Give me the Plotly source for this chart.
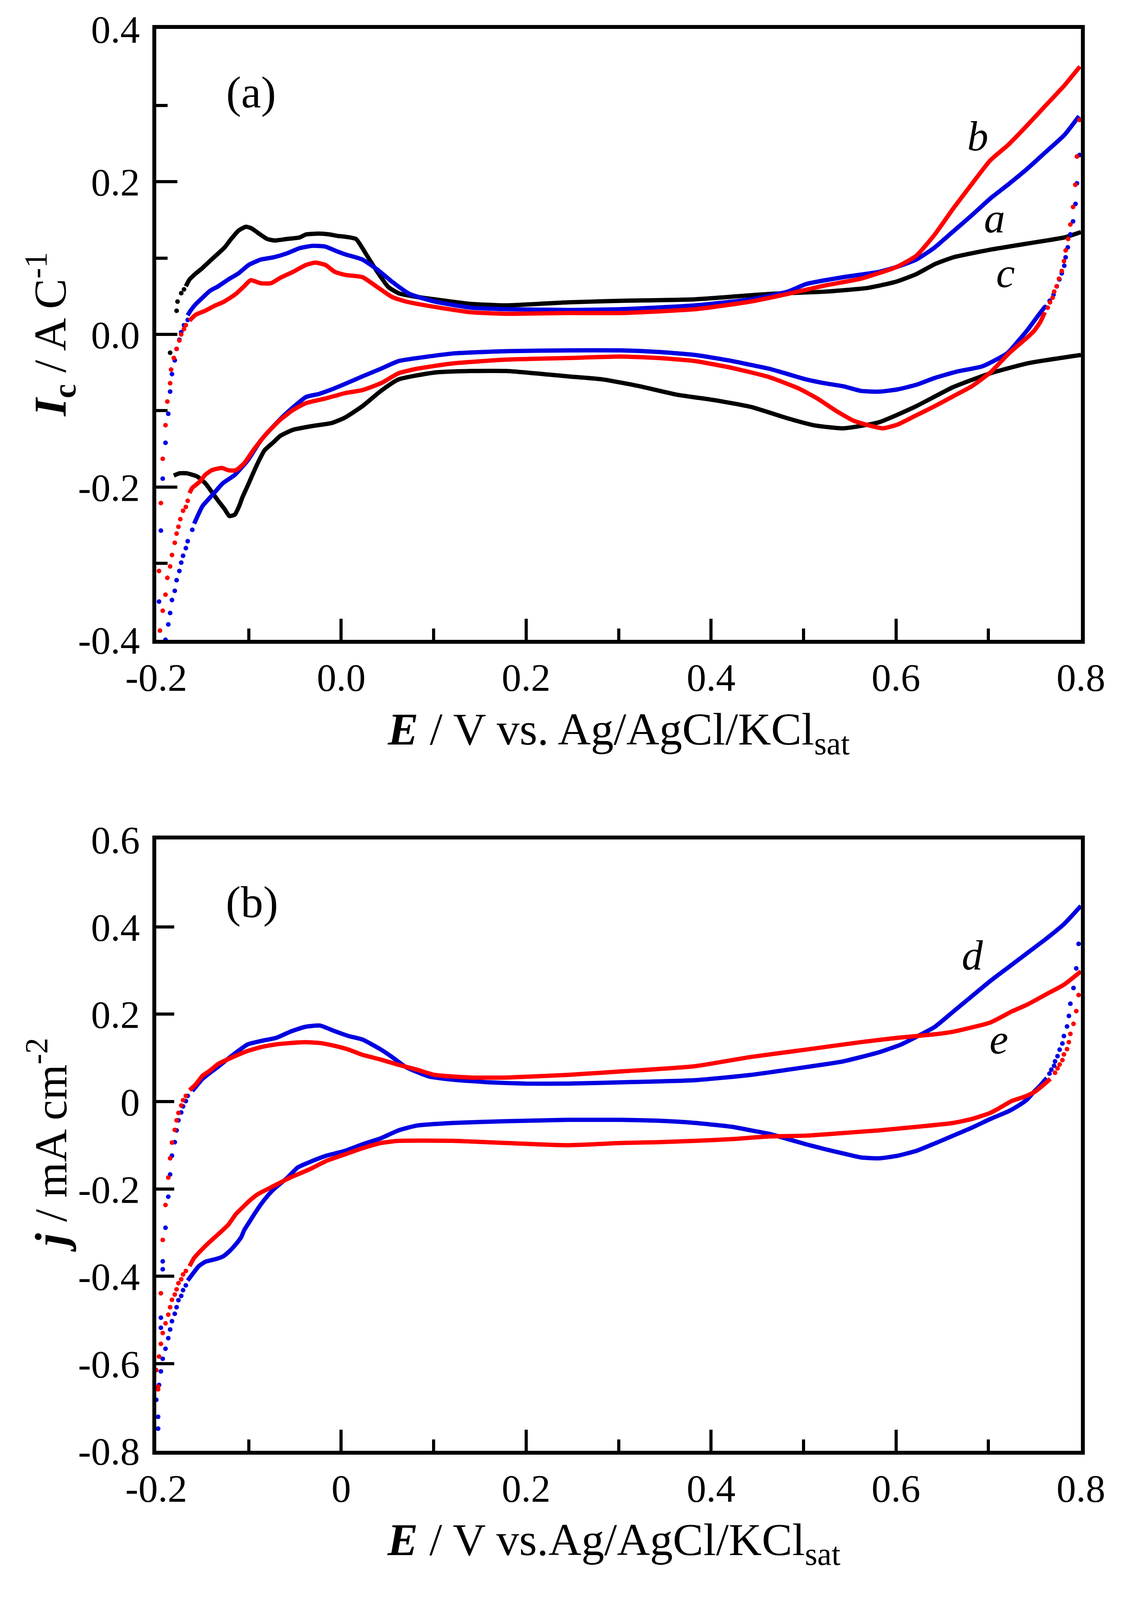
import plotly.graph_objects as go
from plotly.subplots import make_subplots

# ---------- panel (a): I_c / A C^-1 ----------
# curve a (blue)
a_fwd_E = [-0.166, -0.163, -0.157, -0.150, -0.142, -0.133, -0.122, -0.111, -0.100, -0.087, -0.073, -0.059,
           -0.045, -0.031, -0.017, -0.007, 0.004, 0.023, 0.039, 0.055, 0.074, 0.101, 0.140, 0.179, 0.245,
           0.303, 0.383, 0.443, 0.483, 0.503, 0.543, 0.582, 0.600, 0.622, 0.642, 0.662, 0.682, 0.702, 0.722,
           0.742, 0.762, 0.782, 0.798]
a_fwd_I = [0.025, 0.031, 0.040, 0.048, 0.057, 0.063, 0.072, 0.080, 0.091, 0.098, 0.101, 0.106,
           0.113, 0.116, 0.115, 0.110, 0.105, 0.098, 0.085, 0.069, 0.053, 0.043, 0.035, 0.033, 0.032,
           0.033, 0.038, 0.046, 0.056, 0.066, 0.075, 0.082, 0.088, 0.098, 0.114, 0.135, 0.156, 0.178, 0.197,
           0.217, 0.239, 0.261, 0.286]
a_rev_E = [0.761, 0.754, 0.743, 0.732, 0.721, 0.707, 0.693, 0.665, 0.642, 0.622, 0.602, 0.582, 0.562, 0.543,
           0.523, 0.503, 0.483, 0.463, 0.443, 0.423, 0.383, 0.343, 0.303, 0.245, 0.179, 0.121, 0.082, 0.062,
           0.043, 0.023, 0.004, -0.010, -0.024, -0.038, -0.059, -0.073, -0.087, -0.101, -0.115, -0.128,
           -0.139, -0.150, -0.159]
a_rev_I = [0.036, 0.025, 0.007, -0.009, -0.024, -0.034, -0.042, -0.049, -0.057, -0.066, -0.072, -0.075, -0.074,
           -0.068, -0.064, -0.059, -0.052, -0.045, -0.040, -0.035, -0.027, -0.023, -0.021, -0.021, -0.022,
           -0.025, -0.031, -0.035, -0.045, -0.055, -0.065, -0.072, -0.078, -0.082, -0.103, -0.120, -0.139,
           -0.165, -0.184, -0.195, -0.210, -0.225, -0.248]
a_dots_E = [-0.197, -0.195, -0.193, -0.190, -0.187, -0.185, -0.183, -0.180, -0.178, -0.175, -0.173, -0.170,
            -0.166, -0.161, -0.166, -0.168, -0.171, -0.173, -0.175, -0.178, -0.180, -0.183, -0.185, -0.187,
            -0.190, 0.7985, 0.7957, 0.7942, 0.7915, 0.7886, 0.7858, 0.7835, 0.7820, 0.7793, 0.7767, 0.7739,
            0.7704, 0.7662, 0.7613]
a_dots_I = [-0.350, -0.257, -0.189, -0.142, -0.104, -0.075, -0.052, -0.034, -0.019, -0.007, 0.003, 0.012,
            0.019, -0.256, -0.271, -0.280, -0.290, -0.299, -0.310, -0.322, -0.336, -0.348, -0.365, -0.380,
            -0.400, 0.235, 0.198, 0.171, 0.148, 0.131, 0.114, 0.101, 0.090, 0.080, 0.072, 0.063,
            0.052, 0.044, 0.036]

# curve b (red)
b_fwd_E = [-0.164, -0.157, -0.147, -0.136, -0.128, -0.115, -0.105, -0.098, -0.087, -0.076, -0.066, -0.052,
           -0.038, -0.028, -0.017, -0.007, 0.004, 0.023, 0.039, 0.055, 0.070, 0.101, 0.140, 0.179, 0.245,
           0.303, 0.383, 0.443, 0.483, 0.523, 0.562, 0.600, 0.622, 0.642, 0.662, 0.682, 0.702, 0.722, 0.742,
           0.762, 0.782, 0.799]
b_fwd_I = [0.018, 0.026, 0.031, 0.038, 0.042, 0.052, 0.063, 0.071, 0.067, 0.067, 0.074, 0.082,
           0.091, 0.094, 0.091, 0.082, 0.078, 0.075, 0.062, 0.049, 0.043, 0.036, 0.029, 0.027, 0.028,
           0.028, 0.033, 0.043, 0.053, 0.064, 0.073, 0.088, 0.103, 0.131, 0.165, 0.197, 0.228, 0.249, 0.274,
           0.300, 0.326, 0.351]
b_rev_E = [0.761, 0.756, 0.749, 0.742, 0.722, 0.702, 0.682, 0.662, 0.642, 0.622, 0.602, 0.586, 0.570, 0.554,
           0.535, 0.515, 0.495, 0.463, 0.423, 0.383, 0.343, 0.303, 0.245, 0.179, 0.121, 0.082, 0.062, 0.043,
           0.023, 0.004, -0.017, -0.038, -0.052, -0.066, -0.080, -0.094, -0.105, -0.114, -0.122, -0.129,
           -0.140, -0.147, -0.153, -0.157, -0.161, -0.164]
b_rev_I = [0.029, 0.016, 0.004, -0.004, -0.025, -0.050, -0.068, -0.081, -0.094, -0.106, -0.118, -0.123, -0.119,
           -0.113, -0.100, -0.084, -0.071, -0.056, -0.044, -0.035, -0.031, -0.029, -0.031, -0.033, -0.038,
           -0.045, -0.051, -0.064, -0.073, -0.077, -0.084, -0.090, -0.099, -0.112, -0.129, -0.150, -0.169,
           -0.178, -0.178, -0.175, -0.178, -0.184, -0.193, -0.197, -0.201, -0.208]
b_dots_E = [-0.197, -0.195, -0.193, -0.190, -0.188, -0.185, -0.184, -0.181, -0.178, -0.175, -0.173, -0.170,
            -0.168, -0.166, -0.168, -0.171, -0.174, -0.176, -0.178, -0.180, -0.183, -0.185, -0.188, -0.190,
            -0.193, -0.196, 0.7985, 0.7957, 0.7939, 0.7915, 0.7886, 0.7862, 0.7835, 0.7817, 0.7793, 0.7763,
            0.7737, 0.7711, 0.7694, 0.7666, 0.7641]
b_dots_I = [-0.310, -0.221, -0.163, -0.119, -0.088, -0.064, -0.046, -0.031, -0.019, -0.008, 0.000, 0.007,
            0.012, -0.218, -0.226, -0.231, -0.242, -0.252, -0.261, -0.273, -0.289, -0.304, -0.319, -0.341,
            -0.362, -0.388, 0.281, 0.233, 0.196, 0.167, 0.144, 0.125, 0.110, 0.096, 0.083, 0.073,
            0.063, 0.056, 0.048, 0.042, 0.035]

# curve c (black)
c_fwd_E = [-0.168, -0.164, -0.157, -0.150, -0.143, -0.133, -0.126, -0.119, -0.111, -0.103, -0.097, -0.090,
           -0.080, -0.072, -0.059, -0.045, -0.038, -0.024, -0.013, -0.004, 0.004, 0.016, 0.027, 0.039, 0.051,
           0.062, 0.082, 0.101, 0.140, 0.179, 0.245, 0.303, 0.383, 0.463, 0.523, 0.570, 0.600, 0.622, 0.642,
           0.662, 0.702, 0.742, 0.782, 0.800]
c_fwd_I = [0.063, 0.072, 0.080, 0.087, 0.095, 0.106, 0.114, 0.125, 0.136, 0.141, 0.139, 0.133,
           0.125, 0.123, 0.125, 0.127, 0.131, 0.132, 0.131, 0.129, 0.128, 0.125, 0.105, 0.082, 0.062,
           0.054, 0.049, 0.046, 0.040, 0.038, 0.042, 0.044, 0.046, 0.053, 0.056, 0.061, 0.069, 0.079, 0.092,
           0.101, 0.111, 0.119, 0.127, 0.134]
c_rev_E = [0.800, 0.742, 0.702, 0.662, 0.622, 0.582, 0.543, 0.511, 0.483, 0.443, 0.403, 0.363, 0.323, 0.283,
           0.245, 0.179, 0.140, 0.101, 0.062, 0.043, 0.023, 0.004, -0.010, -0.031, -0.052, -0.066, -0.073,
           -0.083, -0.090, -0.096, -0.101, -0.107, -0.110, -0.115, -0.121, -0.126, -0.133, -0.139, -0.147,
           -0.156, -0.167, -0.175, -0.181]
c_rev_I = [-0.027, -0.038, -0.051, -0.069, -0.094, -0.115, -0.123, -0.119, -0.110, -0.095, -0.086, -0.079,
           -0.068, -0.059, -0.055, -0.048, -0.048, -0.050, -0.059, -0.074, -0.094, -0.109, -0.116, -0.120,
           -0.125, -0.133, -0.141, -0.152, -0.168, -0.184, -0.198, -0.214, -0.224, -0.236, -0.238, -0.229,
           -0.218, -0.208, -0.195, -0.186, -0.182, -0.182, -0.185]
c_dots_E = [-0.185, -0.178, -0.177, -0.173, -0.170]
c_dots_I = [-0.024, 0.031, 0.043, 0.054, 0.059]

# ---------- panel (b): j / mA cm^-2 ----------
# curve d (blue)
d_fwd_E = [-0.161, -0.156, -0.150, -0.143, -0.133, -0.117, -0.101, -0.086, -0.070, -0.055, -0.039, -0.023,
           -0.008, 0.008, 0.023, 0.043, 0.055, 0.070, 0.094, 0.121, 0.160, 0.199, 0.245, 0.303, 0.383, 0.443,
           0.503, 0.543, 0.582, 0.606, 0.622, 0.642, 0.662, 0.682, 0.702, 0.722, 0.742, 0.762, 0.782, 0.800]
d_fwd_j = [0.024, 0.037, 0.052, 0.064, 0.080, 0.107, 0.131, 0.139, 0.146, 0.160, 0.171, 0.174,
           0.162, 0.150, 0.142, 0.119, 0.102, 0.079, 0.058, 0.050, 0.044, 0.041, 0.041, 0.044, 0.049, 0.061,
           0.079, 0.092, 0.113, 0.131, 0.148, 0.171, 0.206, 0.241, 0.276, 0.308, 0.340, 0.372, 0.407, 0.448]
d_rev_E = [0.763, 0.757, 0.750, 0.742, 0.732, 0.722, 0.711, 0.702, 0.682, 0.662, 0.642, 0.622, 0.602, 0.582,
           0.562, 0.543, 0.523, 0.503, 0.483, 0.463, 0.443, 0.423, 0.383, 0.343, 0.303, 0.245, 0.179, 0.121,
           0.082, 0.062, 0.043, 0.023, 0.004, -0.016, -0.031, -0.047, -0.058, -0.073, -0.080, -0.087, -0.094,
           -0.100, -0.105, -0.108, -0.114, -0.121, -0.128, -0.136, -0.147, -0.154, -0.160, -0.166]
d_rev_j = [0.054, 0.039, 0.024, 0.005, -0.010, -0.022, -0.032, -0.040, -0.060, -0.078, -0.096, -0.113, -0.124,
           -0.130, -0.128, -0.119, -0.109, -0.098, -0.086, -0.074, -0.066, -0.058, -0.049, -0.044, -0.042,
           -0.042, -0.045, -0.049, -0.055, -0.066, -0.084, -0.098, -0.113, -0.124, -0.136, -0.151, -0.174,
           -0.201, -0.217, -0.236, -0.258, -0.278, -0.295, -0.310, -0.327, -0.343, -0.355, -0.361, -0.367,
           -0.377, -0.393, -0.410]
d_dots_E = [-0.198, -0.198, -0.200, -0.197, -0.195, -0.193, -0.190, -0.187, -0.185, -0.183, -0.180, -0.178,
            -0.176, -0.173, -0.171, -0.168, -0.195, -0.195, -0.193, -0.193, -0.190, -0.187, -0.185, -0.183,
            -0.180, -0.178, -0.176, -0.173, -0.171, -0.168, -0.166, 0.7975, 0.7950, 0.7920, 0.7886, 0.7870,
            0.7850, 0.7816, 0.7800, 0.7770, 0.7747, 0.7720, 0.7710, 0.7680, 0.7660]
d_dots_j = [-0.749, -0.722, -0.683, -0.649, -0.618, -0.589, -0.566, -0.542, -0.522, -0.503, -0.486, -0.471,
            -0.455, -0.445, -0.432, -0.421, -0.518, -0.495, -0.384, -0.366, -0.289, -0.218, -0.167, -0.124,
            -0.093, -0.066, -0.043, -0.025, -0.011, 0.001, 0.013, 0.361, 0.305, 0.260, 0.224, 0.196,
            0.172, 0.150, 0.133, 0.119, 0.104, 0.092, 0.082, 0.073, 0.064]

# curve e (red)
e_fwd_E = [-0.164, -0.157, -0.150, -0.143, -0.133, -0.117, -0.101, -0.086, -0.070, -0.055, -0.039, -0.023,
           -0.008, 0.008, 0.023, 0.043, 0.062, 0.082, 0.101, 0.140, 0.179, 0.245, 0.303, 0.383, 0.443, 0.503,
           0.562, 0.602, 0.642, 0.662, 0.702, 0.725, 0.742, 0.762, 0.782, 0.800]
e_fwd_j = [0.026, 0.040, 0.059, 0.069, 0.086, 0.102, 0.116, 0.125, 0.131, 0.134, 0.136, 0.134,
           0.128, 0.119, 0.107, 0.096, 0.084, 0.073, 0.061, 0.055, 0.055, 0.061, 0.069, 0.081, 0.102, 0.119,
           0.136, 0.146, 0.154, 0.160, 0.181, 0.206, 0.222, 0.245, 0.268, 0.298]
e_rev_E = [0.767, 0.760, 0.750, 0.739, 0.725, 0.711, 0.702, 0.682, 0.662, 0.622, 0.582, 0.543, 0.503, 0.463,
           0.423, 0.383, 0.343, 0.303, 0.245, 0.179, 0.121, 0.062, 0.043, 0.023, 0.004, -0.016, -0.035, -0.055,
           -0.070, -0.080, -0.090, -0.098, -0.105, -0.114, -0.122, -0.133, -0.143, -0.153, -0.159, -0.164]
e_rev_j = [0.052, 0.039, 0.022, 0.011, 0.001, -0.016, -0.026, -0.040, -0.049, -0.058, -0.066, -0.072, -0.078,
           -0.080, -0.086, -0.090, -0.093, -0.095, -0.100, -0.095, -0.090, -0.090, -0.095, -0.107, -0.121,
           -0.136, -0.156, -0.174, -0.190, -0.201, -0.212, -0.225, -0.239, -0.258, -0.282, -0.304, -0.323,
           -0.344, -0.358, -0.377]
e_dots_E = [-0.200, -0.198, -0.198, -0.197, -0.195, -0.193, -0.190, -0.187, -0.185, -0.183, -0.180, -0.178,
            -0.176, -0.173, -0.171, -0.168, -0.195, -0.193, -0.190, -0.187, -0.185, -0.183, -0.180, -0.178,
            -0.176, -0.173, -0.171, -0.168, 0.7975, 0.7950, 0.7920, 0.7886, 0.7870, 0.7850, 0.7816, 0.7800,
            0.7770, 0.7747, 0.7720]
e_dots_j = [-0.615, -0.653, -0.659, -0.584, -0.555, -0.530, -0.508, -0.488, -0.471, -0.454, -0.442, -0.430,
            -0.416, -0.407, -0.396, -0.388, -0.439, -0.317, -0.237, -0.174, -0.130, -0.094, -0.065, -0.043,
            -0.026, -0.009, 0.003, 0.013, 0.244, 0.207, 0.178, 0.155, 0.136, 0.120, 0.108, 0.095,
            0.085, 0.076, 0.066]

# tick labels
top_x_ticks = [-0.2, 0.0, 0.2, 0.4, 0.6, 0.8]
top_x_text = ["-0.2", "0.0", "0.2", "0.4", "0.6", "0.8"]
bot_x_text = ["-0.2", "0", "0.2", "0.4", "0.6", "0.8"]
x_minor = [-0.1, 0.1, 0.3, 0.5, 0.7]
top_y_ticks = [-0.4, -0.2, 0.0, 0.2, 0.4]
top_y_text = ["-0.4", "-0.2", "0.0", "0.2", "0.4"]
top_y_minor = [-0.3, -0.1, 0.1, 0.3]
bot_y_ticks = [-0.8, -0.6, -0.4, -0.2, 0.0, 0.2, 0.4, 0.6]
bot_y_text = ["-0.8", "-0.6", "-0.4", "-0.2", "0", "0.2", "0.4", "0.6"]

BLUE = "rgb(0,0,225)"
RED = "rgb(255,0,0)"
BLACK = "black"
FONT = "Liberation Serif, Times New Roman, serif"
W, H = 2885, 4292

fig = make_subplots(rows=2, cols=1)


def add_curve(fwd_x, fwd_y, rev_x, rev_y, dots_x, dots_y, color, row):
    fig.add_trace(go.Scatter(x=fwd_x + [None] + rev_x, y=fwd_y + [None] + rev_y, mode="lines",
                             line=dict(color=color, width=11, shape="spline", smoothing=0.5),
                             cliponaxis=False, showlegend=False), row=row, col=1)
    fig.add_trace(go.Scatter(x=dots_x, y=dots_y, mode="markers",
                             marker=dict(color=color, size=12, line=dict(width=0)),
                             cliponaxis=False, showlegend=False), row=row, col=1)


add_curve(c_fwd_E, c_fwd_I, c_rev_E, c_rev_I, c_dots_E, c_dots_I, BLACK, 1)
add_curve(a_fwd_E, a_fwd_I, a_rev_E, a_rev_I, a_dots_E, a_dots_I, BLUE, 1)
add_curve(b_fwd_E, b_fwd_I, b_rev_E, b_rev_I, b_dots_E, b_dots_I, RED, 1)
add_curve(d_fwd_E, d_fwd_j, d_rev_E, d_rev_j, d_dots_E, d_dots_j, BLUE, 2)
add_curve(e_fwd_E, e_fwd_j, e_rev_E, e_rev_j, e_dots_E, e_dots_j, RED, 2)

axis_common = dict(showline=True, linewidth=10, linecolor="black", mirror=True, showgrid=False,
                   zeroline=False, ticks="inside", tickwidth=8, tickcolor="black", automargin=False,
                   tickfont=dict(family=FONT, size=100, color="black"))
xdom = [400 / W, 2767 / W]

fig.update_layout(
    width=W, height=H, paper_bgcolor="white", plot_bgcolor="white",
    margin=dict(l=0, r=0, t=0, b=0, autoexpand=False),
    xaxis=dict(axis_common, domain=xdom, range=[-0.2, 0.8], tickvals=top_x_ticks, ticktext=top_x_text,
               ticklen=54, minor=dict(tickvals=x_minor, ticks="inside", ticklen=29, tickwidth=8,
                                      tickcolor="black")),
    yaxis=dict(axis_common, domain=[1 - 1716 / H, 1 - 78 / H], range=[-0.4, 0.4], tickvals=top_y_ticks,
               ticktext=top_y_text, ticklen=54, ticklabelstandoff=12,
               minor=dict(tickvals=top_y_minor, ticks="inside", ticklen=29, tickwidth=8, tickcolor="black")),
    xaxis2=dict(axis_common, domain=xdom, range=[-0.2, 0.8], tickvals=top_x_ticks, ticktext=bot_x_text,
                ticklen=54, minor=dict(tickvals=x_minor, ticks="inside", ticklen=29, tickwidth=8,
                                       tickcolor="black")),
    yaxis2=dict(axis_common, domain=[1 - 3892 / H, 1 - 2252 / H], range=[-0.8, 0.6], tickvals=bot_y_ticks,
                ticktext=bot_y_text, ticklen=46, ticklabelstandoff=12),
)


def label(text, px, py, size, **kw):
    fig.add_annotation(text=text, x=px / W, y=1 - py / H, xref="paper", yref="paper", showarrow=False,
                       xanchor="center", yanchor="middle", font=dict(family=FONT, size=size, color="black"),
                       **kw)


# axis titles
label("<b><i>E</i></b> / V vs. Ag/AgCl/KCl<sub>sat</sub>", 1583, 1965, 117)
label("<b><i>E</i></b> / V vs.Ag/AgCl/KCl<sub>sat</sub>", 1571, 4140, 117)
label("<b><i>I</i></b><sub><b>c</b></sub> / A C<sup>-1</sup>", 128, 897, 117, textangle=-90)
label("<b><i>j</i></b> / mA cm<sup>-2</sup>", 122, 3072, 117, textangle=-90)

# panel labels
label("(a)", 643, 248, 115)
label("(b)", 645, 2420, 115)

# curve labels
label("<i>b</i>", 2503, 365, 108)
label("<i>a</i>", 2546, 585, 108)
label("<i>c</i>", 2574, 732, 108)
label("<i>d</i>", 2489, 2562, 108)
label("<i>e</i>", 2557, 2788, 108)

# the visible page can be a little shorter than the requested window, so fit the figure to it
fit_js = ("document.body.style.margin='0';"
          "var gd=document.getElementById('{plot_id}');"
          "Plotly.relayout(gd,{width:document.documentElement.clientWidth,height:window.innerHeight});")

fig.write_html("out.html", post_script=fit_js, config={"displayModeBar": False})
